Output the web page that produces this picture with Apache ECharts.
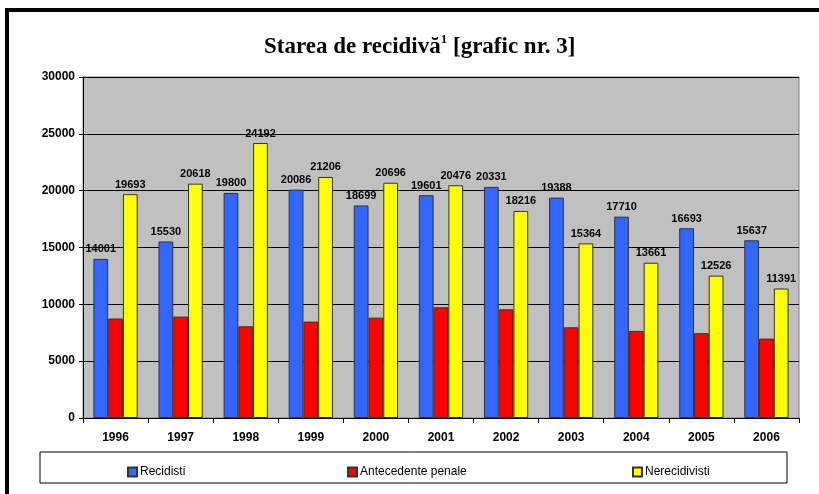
<!DOCTYPE html>
<html>
<head>
<meta charset="utf-8">
<script src="https://cdn.jsdelivr.net/npm/echarts@6/dist/echarts.min.js"></script>
<style>
  html, body { margin: 0; padding: 0; background: #fff; }
  #main { width: 819px; height: 494px; }
</style>
</head>
<body>
<div id="main"></div>
<script>
// date grafic
var ani = ['1996', '1997', '1998', '1999', '2000', '2001', '2002', '2003', '2004', '2005', '2006'];
var recidisti = [14001, 15530, 19800, 20086, 18699, 19601, 20331, 19388, 17710, 16693, 15637];
var antecedente = [8750, 8920, 8070, 8480, 8830, 9740, 9560, 7980, 7660, 7460, 6990];
var nerecidivisti = [19693, 20618, 24192, 21206, 20696, 20476, 18216, 15364, 13661, 12526, 11391];

var chart = echarts.init(document.getElementById('main'));

var font = 'Liberation Sans, Arial, sans-serif';

// eticheta deasupra barelor
var eticheta = {
    show: true,
    position: 'top',
    distance: 4,
    color: '#000',
    fontFamily: font,
    fontWeight: 'bold',
    fontSize: 11
};

var option = {
    animation: false,
    backgroundColor: '#fff',
    title: {
        text: '{t|Starea de recidivă}{s|1}{t| [grafic nr. 3]}',
        left: 259,
        top: 28,
        textStyle: {
            rich: {
                t: {
                    fontFamily: 'Liberation Serif, Times New Roman, serif',
                    fontWeight: 'bold',
                    fontSize: 23,
                    lineHeight: 28,
                    color: '#000'
                },
                s: {
                    fontFamily: 'Liberation Serif, Times New Roman, serif',
                    fontWeight: 'bold',
                    fontSize: 13,
                    lineHeight: 16,
                    verticalAlign: 'top',
                    color: '#000'
                }
            }
        }
    },
    legend: [
        { data: ['Recidisti'], left: 122 },
        { data: ['Antecedente penale'], left: 342 },
        { data: ['Nerecidivisti'], left: 627 }
    ].map(function (l) {
        l.top = 461;
        l.icon = 'rect';
        l.itemWidth = 9;
        l.itemHeight = 9;
        l.itemGap = 0;
        l.textStyle = { fontFamily: font, fontSize: 12, color: '#000', padding: [0, 0, 0, -2] };
        return l;
    }),
    grid: {
        left: 83,
        right: 20,
        top: 77,
        bottom: 76,
        show: true,
        backgroundColor: '#C0C0C0',
        borderColor: '#808080',
        borderWidth: 1
    },
    xAxis: {
        type: 'category',
        data: ani,
        axisLine: { lineStyle: { color: '#000', width: 1 } },
        axisTick: { show: true, length: 5, lineStyle: { color: '#000' } },
        axisLabel: {
            color: '#000',
            fontFamily: font,
            fontWeight: 'bold',
            fontSize: 12,
            margin: 14
        }
    },
    yAxis: {
        type: 'value',
        min: 0,
        max: 30000,
        interval: 5000,
        axisLine: { show: true, lineStyle: { color: '#000', width: 1 } },
        axisTick: { show: true, length: 4, lineStyle: { color: '#000' } },
        axisLabel: {
            color: '#000',
            fontFamily: font,
            fontWeight: 'bold',
            fontSize: 12,
            margin: 8,
            formatter: function (v) { return String(v); }
        },
        splitLine: { show: true, lineStyle: { color: '#000', width: 1 } }
    },
    series: [
        {
            name: 'Recidisti',
            type: 'bar',
            data: recidisti,
            barGap: 0,
            barCategoryGap: '32%',
            itemStyle: { color: '#3366FF', borderColor: '#333', borderWidth: 1 },
            label: eticheta
        },
        {
            name: 'Antecedente penale',
            type: 'bar',
            data: antecedente,
            barGap: 0,
            barCategoryGap: '32%',
            itemStyle: { color: '#FF0000', borderColor: '#333', borderWidth: 1 }
        },
        {
            name: 'Nerecidivisti',
            type: 'bar',
            data: nerecidivisti,
            barGap: 0,
            barCategoryGap: '32%',
            itemStyle: { color: '#FFFF00', borderColor: '#333', borderWidth: 1 },
            label: eticheta
        }
    ],
    graphic: [
        // rama neagra (sus si stanga)
        { type: 'rect', shape: { x: 5, y: 8, width: 814, height: 4 }, style: { fill: '#000' } },
        { type: 'rect', shape: { x: 5, y: 8, width: 4, height: 486 }, style: { fill: '#000' } },
        // chenarul legendei
        {
            type: 'rect',
            z: -1,
            shape: { x: 40, y: 452, width: 747, height: 31 },
            style: { fill: '#fff', stroke: '#000', lineWidth: 1 }
        }
    ]
};

chart.setOption(option);

window.addEventListener('resize', function () {
    chart.resize();
});
</script>
</body>
</html>
